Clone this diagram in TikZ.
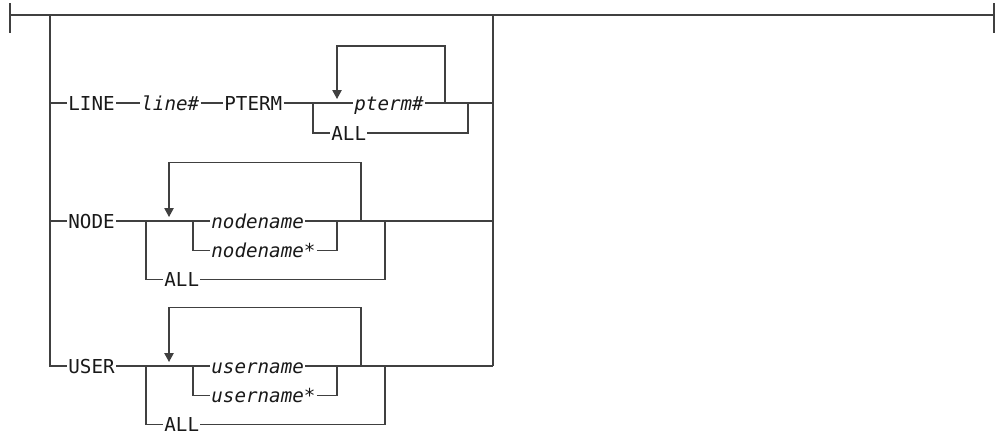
\documentclass[tikz,border=0pt]{standalone}
\usepackage{fontspec}
\setmonofont{DejaVu Sans Mono}
\usetikzlibrary{arrows.meta}
\begin{document}
\begin{tikzpicture}[x=0.5pt,y=-0.5pt,line cap=butt,line join=miter,>={Triangle[width=4.6pt,length=4.4pt]},
	rail/.style={draw=black!75,line width=0.65pt},
	kw/.style={anchor=west,inner xsep=0.5pt,inner ysep=0pt,text height=0.73em,text depth=0pt,text=black!90,font=\ttfamily\fontsize{9.6}{10}\selectfont},
	var/.style={kw,font=\ttfamily\itshape\fontsize{9.6}{10}\selectfont}]
	\useasboundingbox (0,0) rectangle (995,439);
	% main line
	\coordinate (lrail) at (50,15);
	\coordinate (rrail) at (493,15);
	\draw[rail] (10,3)--(10,33) (994,3)--(994,33);
	\draw[rail] (10,15)--(994,15);
	% LINE row
	\node[kw] (line) at (67,103) {LINE};
	\node[var] (linenum) at (140,103) {line\#};
	\node[kw] (pterm) at (223,103) {PTERM};
	\node[var] (ptermnum) at (353,103) {pterm\#};
	\node[kw] (ptermall) at (330,133) {ALL};
	\draw[rail] (lrail |- line.west)--(line.west);
	\draw[rail] (line.east)--(linenum.west);
	\draw[rail] (linenum.east)--(pterm.west);
	\draw[rail] (pterm.east)--(ptermnum.west);
	\draw[rail] (313,103) |- (ptermall.west);
	\draw[rail] (ptermall.east) -| (468,103);
	\draw[rail] (ptermnum.east)--(rrail |- line.west);
	\draw[rail,->] (445,103) |- (337,46)--(337,99);
	% NODE and USER rows
	\foreach \grp/\y/\lbl in {node/221/NODE,user/366/USER}{
		\node[kw] (\grp) at (67,\y) {\lbl};
		\node[var] (\grp-n) at (210,\y) {\grp name};
		\node[var] (\grp-s) at (210,{\y+29.5}) {\grp name*};
		\node[kw] (\grp-a) at (163,{\y+58.5}) {ALL};
		\draw[rail] (\grp.east)--(\grp-n.west);
		\draw[rail] (146,\y) |- (\grp-a.west);
		\draw[rail] (\grp-a.east) -| (385,\y);
		\draw[rail] (193,\y) |- (\grp-s.west);
		\draw[rail] (\grp-s.east) -| (337,\y);
		\draw[rail] (\grp-n.east)--(rrail |- \grp.west);
		\draw[rail,->] (361,\y) |- (169,{\y-58.5})--(169,{\y-4});
	}
	\draw[rail] (lrail |- node.west)--(node.west);
	% rails
	\draw[rail] (lrail) |- (user.west);
	\draw[rail] (rrail)--(rrail |- user.west);
\end{tikzpicture}
\end{document}
